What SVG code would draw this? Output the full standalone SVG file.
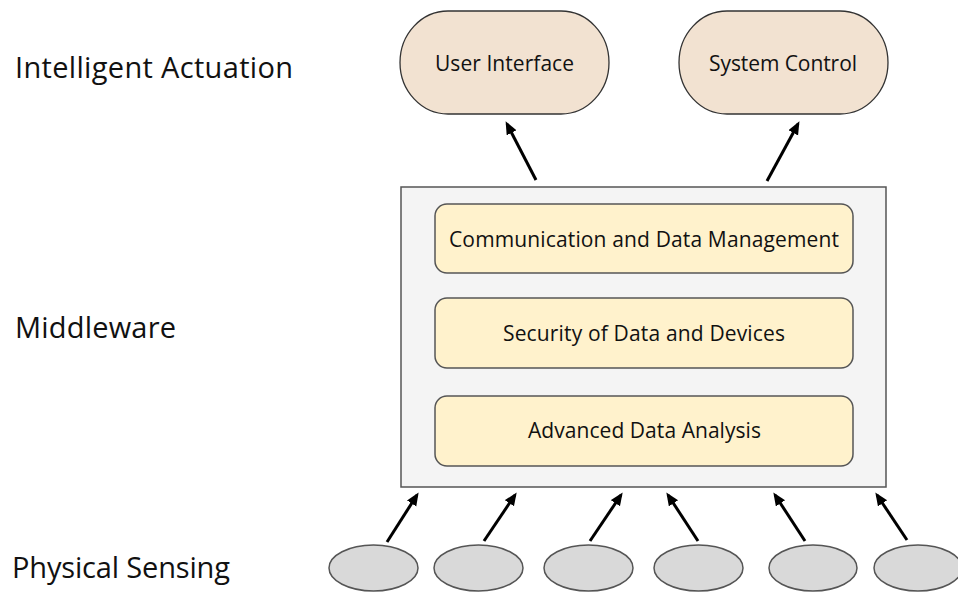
<svg xmlns="http://www.w3.org/2000/svg" width="958" height="592" viewBox="0 0 958 592">
<defs>
<style>
.lbl{font-family:"Open Sans","Noto Sans","Liberation Sans",sans-serif;fill:#111;}
.side{font-size:29px;}
.node{font-size:21px;text-anchor:middle;}
.act{fill:#F2E2D1;stroke:#333;stroke-width:1.3;}
.layer{fill:#FFF2CC;stroke:#555;stroke-width:1.5;}
.mw{fill:#F4F4F4;stroke:#555;stroke-width:1.5;}
.sens{fill:#D9D9D9;stroke:#555;stroke-width:1.5;}
.arr{stroke:#000;stroke-width:3;fill:none;marker-end:url(#ah);}
</style>
<marker id="ah" markerUnits="userSpaceOnUse" markerWidth="14" markerHeight="12" refX="10" refY="5.5" orient="auto">
<path d="M0,0 L13,5.5 L0,11 z" fill="#000"/>
</marker>
</defs>
<rect width="958" height="592" fill="#fff"/>
<g id="label-actuation"><text class="lbl side" x="15" y="78" textLength="278">Intelligent Actuation</text></g>
<g id="label-middleware"><text class="lbl side" x="15" y="338" textLength="161">Middleware</text></g>
<g id="label-sensing"><text class="lbl side" x="12" y="578" textLength="218">Physical Sensing</text></g>
<g id="user-interface"><rect class="act" x="400" y="11" width="209" height="103" rx="48" ry="52"/><text class="lbl node" x="504.5" y="71" textLength="139">User Interface</text></g>
<g id="system-control"><rect class="act" x="679" y="11" width="209" height="103" rx="48" ry="52"/><text class="lbl node" x="783" y="71" textLength="148">System Control</text></g>
<g id="middleware"><rect class="mw" x="401" y="187" width="485" height="300"/></g>
<g id="comm"><rect class="layer" x="435" y="204" width="418" height="69" rx="12"/><text class="lbl node" x="644" y="247" textLength="390">Communication and Data Management</text></g>
<g id="security"><rect class="layer" x="435" y="298" width="418" height="70" rx="12"/><text class="lbl node" x="644" y="341" textLength="282">Security of Data and Devices</text></g>
<g id="analysis"><rect class="layer" x="435" y="396" width="418" height="70" rx="12"/><text class="lbl node" x="644.5" y="438" textLength="233">Advanced Data Analysis</text></g>
<g id="sensor1"><ellipse class="sens" cx="373.5" cy="568" rx="44.5" ry="23"/></g>
<g id="sensor2"><ellipse class="sens" cx="478.5" cy="568" rx="44.5" ry="23"/></g>
<g id="sensor3"><ellipse class="sens" cx="588.5" cy="568" rx="44.5" ry="23"/></g>
<g id="sensor4"><ellipse class="sens" cx="698.5" cy="568" rx="44.5" ry="23"/></g>
<g id="sensor5"><ellipse class="sens" cx="813" cy="568" rx="44" ry="23"/></g>
<g id="sensor6"><ellipse class="sens" cx="918" cy="568" rx="44" ry="23"/></g>
<g id="connectors">
<line class="arr" x1="536" y1="180" x2="507" y2="124"/>
<line class="arr" x1="767" y1="181" x2="798" y2="124"/>
<line class="arr" x1="387" y1="542" x2="417" y2="495"/>
<line class="arr" x1="484" y1="541" x2="515" y2="495"/>
<line class="arr" x1="590" y1="541" x2="621" y2="495"/>
<line class="arr" x1="698" y1="541" x2="668" y2="495"/>
<line class="arr" x1="805" y1="541" x2="775" y2="495"/>
<line class="arr" x1="907" y1="540" x2="877" y2="495"/>
</g>
</svg>
